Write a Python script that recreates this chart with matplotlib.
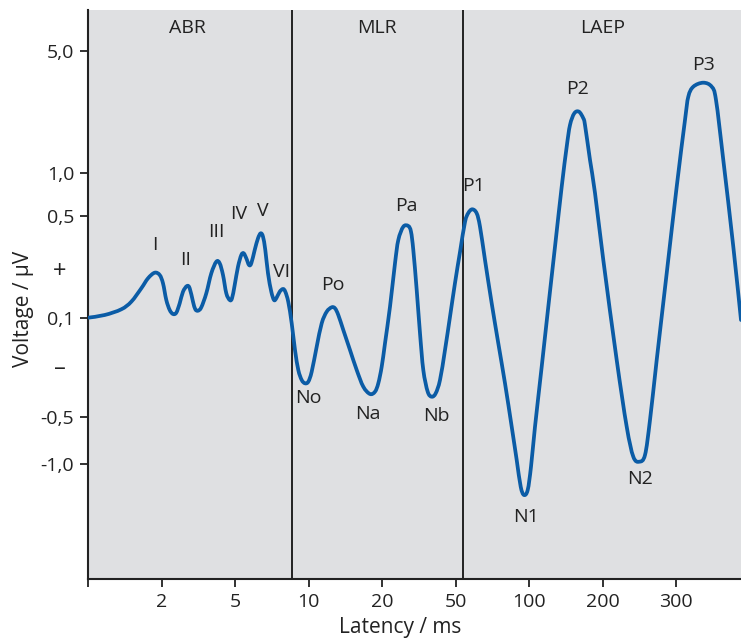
import matplotlib
matplotlib.use("Agg")
import matplotlib.pyplot as plt
import matplotlib.transforms as mtransforms
from matplotlib.path import Path
from matplotlib.patches import PathPatch
import numpy as np

plt.rcParams['font.family'] = ['Open Sans', 'DejaVu Sans']

# ---- data (x: position along the latency axis, y: amplitude level, arbitrary units) ----
latency_ticks = ['', '2', '5', '10', '20', '50', '100', '200', '300']
voltage_ticks = ['5,0', '1,0', '0,5', '0,1', '-0,5', '-1,0']
voltage_levels = [529, 407, 364, 262, 163, 116]
sign_labels = ['+', '–']
sign_levels = [308, 211]

curve_x = [0, 16.7, 33.3, 43.3, 53.3, 60, 66.7, 71.7, 75, 78.3, 81.7, 85, 88.3, 91.7, 95, 99,
           101.7, 105, 107.3, 110, 113.3, 118.3, 123.3, 128.3, 131.7, 135, 138.3, 141.7, 144,
           146.7, 150, 153.3, 155.7, 158.3, 161, 163.3, 166.7, 170, 172.7, 175, 177.3, 180,
           183.3, 186, 188.3, 191.7, 195, 197.3, 200.3, 203.7, 207, 210.3, 213.7, 217, 220.3,
           223.7, 228.7, 233.7, 238.7, 243.7, 247, 250.3, 255.3, 262, 268.7, 275.3, 282, 287,
           290.3, 293.7, 297, 302, 307, 310.3, 315.3, 320.3, 323, 325.3, 328.7, 332, 335.3,
           339.7, 343.7, 347.7, 352, 357, 362, 367, 372, 377, 380.3, 384.3, 388.7, 392, 397,
           403.7, 410.3, 417, 423.7, 428.7, 432.7, 436, 439.7, 443, 447, 453.7, 460.3, 467,
           473.7, 478.7, 482, 486.3, 491, 495.3, 497, 502, 507, 515.3, 528.7, 538.7, 545.3, 551.3,
           557, 562, 568.7, 578.7, 588.7, 597, 600.3, 605.3, 615.3, 623.7, 628, 635.3, 645.3, 653]
curve_y = [262.3, 265, 270.7, 278.3, 291.7, 301.7, 307.3, 305, 296.7, 280, 270, 266, 267.3, 276.7,
           288.3, 294, 291.7, 278.3, 270.7, 269.3, 272.7, 286.7, 306.7, 318.3, 316.7, 305, 286.7,
           280, 281.7, 295, 313.3, 325, 326.7, 321.7, 315, 316.7, 330, 341.7, 346.7, 343.3, 330,
           306.7, 288.3, 280, 281.7, 288.3, 291, 288.3, 278, 256.7, 230, 210, 200, 196.7, 198.3,
           208.3, 233.3, 256.7, 268.3, 272.7, 271.7, 265, 250, 230, 210, 193.3, 186, 188.3,
           196.7, 213.3, 236.7, 273.3, 316.7, 340, 353.3, 354, 348.3, 330, 290, 246.7, 210,
           188.3, 183.3, 186.7, 200, 230, 263.3, 297, 328, 358, 367, 370.7, 366.7, 353.3, 320,
           276.7, 236.7, 196.7, 153.3, 120, 93.3, 85, 90, 113.3, 153.3, 213.3, 273.3, 333.3,
           393.3, 433.3, 455, 466.7, 468.3, 461.7, 455, 420, 387, 320, 220, 153.3, 123.3, 118.3,
           125, 160, 220, 306.7, 393.3, 460, 483.3, 493.3, 497.3, 493.3, 480, 420, 333.3, 260]

peak_names = ['I', 'II', 'III', 'IV', 'V', 'VI', 'Po', 'Pa', 'P1', 'P2', 'P3',
              'No', 'Na', 'Nb', 'N1', 'N2']
peak_label_x = [67, 98, 128, 151, 175, 194, 245, 318, 386, 490, 615, 220, 280, 348, 438, 552]
peak_label_y = [335, 320, 348, 366, 369, 308, 295, 374, 394, 491, 515, 182, 166, 164, 63, 101]

sections = ['ABR', 'MLR', 'LAEP']
section_centers = [99, 289, 515]
section_bounds = [204, 375]

# ---- figure ----
fig = plt.figure(figsize=(7.41, 6.39), dpi=100)
ax = fig.add_axes([88/741, 1-579/639, 653/741, 569/639])
ax.set_facecolor('#dfe0e2')
ax.set_xlim(0, 653)
ax.set_ylim(1, 570)

# smooth drawing of the read points with cubic Bezier segments (Catmull-Rom handles)
P = np.column_stack([curve_x, curve_y])
Pext = np.vstack([P[0], P, P[-1]])
verts = [tuple(P[0])]
codes = [Path.MOVETO]
for i in range(len(P) - 1):
    p0, p1, p2, p3 = Pext[i], Pext[i + 1], Pext[i + 2], Pext[i + 3]
    c1 = p1 + (p2 - p0) / 6.0
    c2 = p2 - (p3 - p1) / 6.0
    verts += [tuple(c1), tuple(c2), tuple(p2)]
    codes += [Path.CURVE4, Path.CURVE4, Path.CURVE4]
patch = PathPatch(Path(verts, codes), facecolor='none', edgecolor='#0b5ca6', lw=2.7,
                  joinstyle='round', capstyle='round', zorder=3, transform=ax.transData)
ax.add_patch(patch)

for b in section_bounds:
    ax.axvline(b, color='#222222', lw=1.4, zorder=2)

txtc = '#222222'
fs = 14
for name, cx in zip(sections, section_centers):
    ax.text(cx, 552, name, ha='center', va='center', fontsize=fs, color=txtc)

for n, px, py in zip(peak_names, peak_label_x, peak_label_y):
    ax.text(px, py, n, ha='center', va='center', fontsize=fs, color=txtc)

for s in ['top', 'right']:
    ax.spines[s].set_visible(False)
for s in ['left', 'bottom']:
    ax.spines[s].set_linewidth(1.5)
    ax.spines[s].set_color('#222222')

ax.set_xticks(np.arange(len(latency_ticks)) * 73.5)
ax.set_xticklabels(latency_ticks)
ax.set_yticks(voltage_levels)
ax.set_yticklabels(voltage_ticks)
ax.tick_params(axis='both', direction='out', length=6, width=1.3, color='#222222',
               labelsize=fs, labelcolor=txtc, pad=4)

trans = mtransforms.blended_transform_factory(ax.transAxes, ax.transData)
for s, lv in zip(sign_labels, sign_levels):
    ax.text(-0.043, lv, s, transform=trans, ha='center', va='center', fontsize=17, color=txtc)

fig.text(23/741, 1-309/639, 'Voltage / µV', rotation=90, ha='center', va='center',
         fontsize=15, color=txtc)
fig.text(400/741, 1-628/639, 'Latency / ms', ha='center', va='center', fontsize=15, color=txtc)

fig.savefig('out.png', dpi=100)
